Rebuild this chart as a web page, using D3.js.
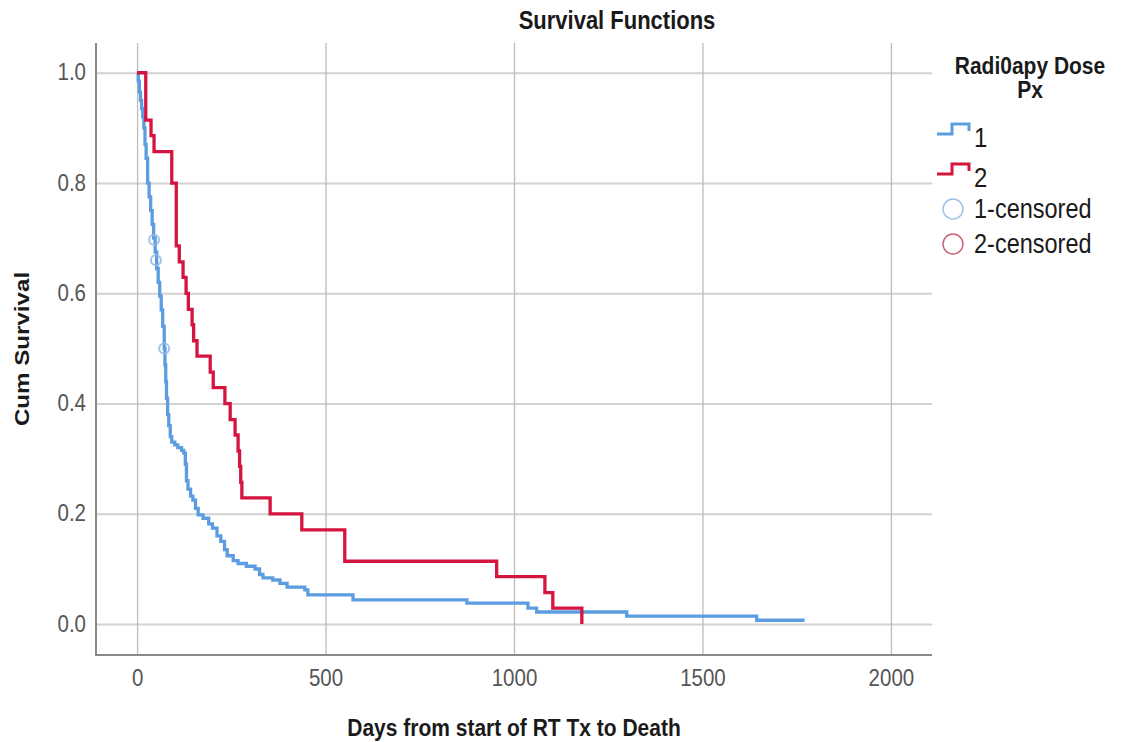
<!DOCTYPE html>
<html>
<head>
<meta charset="utf-8">
<script src="https://cdn.jsdelivr.net/npm/d3@7"></script>
<style>
  body { margin: 0; background: #fff; }
  svg { display: block; font-family: "Liberation Sans", Arial, sans-serif; }
</style>
</head>
<body>
<div id="chart"></div>
<script>
// group 2 (red) - step points: day, cum survival
const redDays = [0, 23, 37, 45, 92, 104, 112, 122, 130, 136, 146, 150, 159, 194, 202, 233, 247, 260, 268, 272, 275, 278, 353, 437, 551, 954, 1082, 1103, 1180];
const redSurv = [1.0, 0.914, 0.886, 0.857, 0.8, 0.686, 0.657, 0.629, 0.6, 0.571, 0.543, 0.514, 0.486, 0.457, 0.429, 0.4, 0.371, 0.343, 0.314, 0.286, 0.257, 0.229, 0.2, 0.171, 0.114, 0.086, 0.057, 0.029, 0.0];

// group 1 (blue)
const blueDays = [0, 3, 6, 9, 12, 15, 18, 21, 24, 28, 32, 36, 40, 44, 48, 52, 56, 60, 64, 68, 72, 74, 76, 78, 81, 84, 88, 92, 100, 108, 118, 124, 128, 131, 135, 142, 148, 155, 162, 175, 190, 200, 212, 222, 232, 239, 255, 268, 290, 313, 325, 334, 360, 379, 398, 445, 453, 573, 875, 1037, 1060, 1299, 1644, 1771];
const blueSurv = [1.0, 0.985, 0.965, 0.95, 0.935, 0.92, 0.9, 0.87, 0.845, 0.8, 0.775, 0.75, 0.725, 0.7, 0.675, 0.645, 0.62, 0.595, 0.57, 0.54, 0.5, 0.47, 0.44, 0.41, 0.38, 0.36, 0.34, 0.33, 0.325, 0.32, 0.315, 0.31, 0.29, 0.26, 0.245, 0.232, 0.225, 0.21, 0.198, 0.192, 0.182, 0.174, 0.16, 0.15, 0.135, 0.124, 0.115, 0.11, 0.105, 0.1, 0.09, 0.084, 0.08, 0.074, 0.067, 0.062, 0.053, 0.044, 0.038, 0.029, 0.022, 0.0145, 0.007, 0.007];

// censored cases (group 1 only)
const blueCensorDays = [45, 50, 72];
const blueCensorSurv = [0.697, 0.66, 0.5];

const xTicks = [0, 500, 1000, 1500, 2000];
const yTicks = [0, 0.2, 0.4, 0.6, 0.8, 1.0];
const legendLabels = ["1", "2", "1-censored", "2-censored"];

const W = 1125, H = 742;
const margin = { top: 43, right: 193, bottom: 87, left: 96 };
const pw = W - margin.left - margin.right;
const ph = H - margin.top - margin.bottom;
const SY = 1.15; // picture text is a bit taller than wide

const blue = "#5b9de0", red = "#d5143f";

const svg = d3.select("#chart").append("svg")
    .attr("width", W)
    .attr("height", H);

const x = d3.scaleLinear().domain([-109, 2109]).range([margin.left, margin.left + pw]);
const y = d3.scaleLinear().domain([-0.056, 1.054]).range([margin.top + ph, margin.top]);

// horizontal gridlines + y labels
const yAxisG = svg.append("g")
    .attr("transform", `translate(${margin.left},0)`)
    .call(d3.axisLeft(y).tickValues(yTicks).tickFormat(d3.format(".1f")).tickSize(-pw).tickPadding(10));
yAxisG.select(".domain").remove();
yAxisG.selectAll("line").attr("stroke", "#d2d2d2").attr("stroke-width", 2);
yAxisG.selectAll("text")
    .attr("x", null).attr("dy", null)
    .attr("transform", `translate(-10,7) scale(1,${SY})`)
    .attr("font-size", 20.5).attr("fill", "#555");

// vertical gridlines + x labels
const xAxisG = svg.append("g")
    .attr("transform", `translate(0,${margin.top + ph})`)
    .call(d3.axisBottom(x).tickValues(xTicks).tickFormat(d3.format("d")).tickSize(-ph));
xAxisG.select(".domain").remove();
xAxisG.selectAll("line").attr("stroke", "#bcbcbc").attr("stroke-width", 1.3);
xAxisG.selectAll("text")
    .attr("y", null).attr("dy", null)
    .attr("transform", `translate(0,31) scale(1,${SY})`)
    .attr("font-size", 20.5).attr("fill", "#555");

// axis frame (left + bottom)
svg.append("path")
    .attr("d", `M${margin.left},${margin.top}V${margin.top + ph}H${margin.left + pw}`)
    .attr("fill", "none").attr("stroke", "#8a8a8a").attr("stroke-width", 2);

// survival curves
const step = d3.line().x(d => x(d[0])).y(d => y(d[1])).curve(d3.curveStepAfter);
const blueData = blueDays.map((d, i) => [d, blueSurv[i]]);
const redData = redDays.map((d, i) => [d, redSurv[i]]);

svg.append("path").datum(blueData)
    .attr("d", step).attr("fill", "none").attr("stroke", blue).attr("stroke-width", 3.3);
svg.append("path").datum(redData)
    .attr("d", step).attr("fill", "none").attr("stroke", red).attr("stroke-width", 3.3);

svg.selectAll("circle.cens")
    .data(blueCensorDays.map((d, i) => [d, blueCensorSurv[i]]))
    .join("circle")
    .attr("class", "cens")
    .attr("cx", d => x(d[0])).attr("cy", d => y(d[1])).attr("r", 5)
    .attr("fill", "none").attr("stroke", "#8fb8e4").attr("stroke-width", 2).attr("opacity", 0.85);

// texts
function label(str, px, py, opt) {
    const t = svg.append("text")
        .attr("transform", `translate(${px},${py}) ${opt.rotate ? "rotate(-90) scale(" + SY + ",1)" : "scale(1," + SY + ")"}`)
        .attr("font-size", opt.size)
        .attr("font-weight", opt.bold ? "bold" : "normal")
        .attr("text-anchor", opt.anchor || "start")
        .attr("fill", opt.fill || "#1a1a1a")
        .text(str);
    return t;
}

label("Survival Functions", 617, 29, { size: 22, bold: true, anchor: "middle" });
label("Days from start of RT Tx to Death", margin.left + pw / 2, 736, { size: 21, bold: true, anchor: "middle" });
label("Cum Survival", 29, margin.top + ph / 2, { size: 21, bold: true, anchor: "middle", rotate: true });

// legend
label("Radi0apy Dose", 1030, 74, { size: 21, bold: true, anchor: "middle" });
label("Px", 1030, 98, { size: 21, bold: true, anchor: "middle" });

const legendColors = [blue, red];
const stepY = [134, 174];
legendColors.forEach((c, i) => {
    const b = stepY[i];
    svg.append("path")
        .attr("d", `M937,${b}H952V${b - 10}H969V${b - 3}`)
        .attr("fill", "none").attr("stroke", c).attr("stroke-width", 3);
    label(legendLabels[i], 974, b + 13, { size: 24 });
});
const circY = [209, 244];
const circStroke = ["#9cc2e8", "#d0607c"];
circY.forEach((cy, i) => {
    svg.append("circle")
        .attr("cx", 953).attr("cy", cy).attr("r", 10)
        .attr("fill", "none").attr("stroke", circStroke[i]).attr("stroke-width", 1.5);
    label(legendLabels[i + 2], 974, cy + 9, { size: 23.5 });
});
</script>
</body>
</html>
